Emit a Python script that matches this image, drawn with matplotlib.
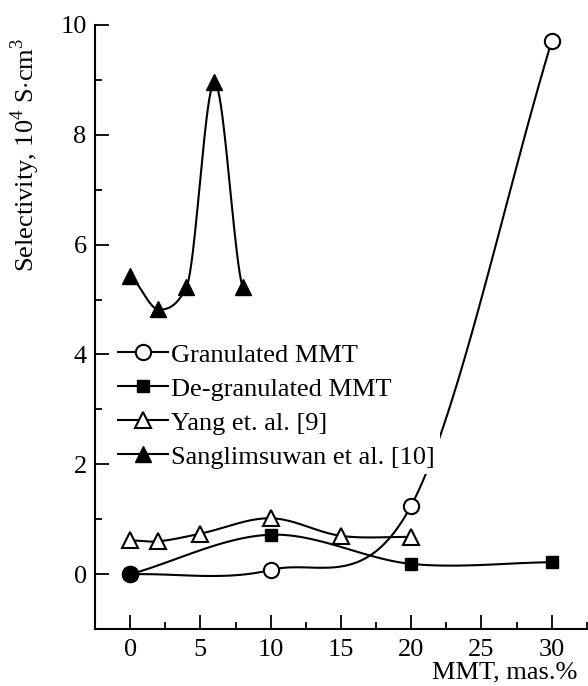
import numpy as np
import matplotlib
matplotlib.use('Agg')
import matplotlib.pyplot as plt

plt.rcParams['font.family'] = ['Liberation Serif', 'DejaVu Serif']
plt.rcParams['mathtext.fontset'] = 'custom'
plt.rcParams['mathtext.rm'] = 'Liberation Serif'

# data
gran_x = [0, 10, 20, 30]
gran_y = [0.0, 0.08, 1.25, 9.7]

degran_x = [0, 10, 20, 30]
degran_y = [0.0, 0.72, 0.19, 0.22]

yang_x = [0, 2, 5, 10, 15, 20]
yang_y = [0.62, 0.60, 0.74, 1.02, 0.70, 0.68]

sang_x = [0, 2, 4, 6, 8]
sang_y = [5.42, 4.82, 5.22, 8.95, 5.22]


def smooth(x, y, tension=1.0, n=40):
    # cardinal (Catmull-Rom like) spline through the points
    x = np.asarray(x, float)
    y = np.asarray(y, float)
    m = np.zeros_like(y)
    m[0] = (y[1] - y[0]) / (x[1] - x[0])
    m[-1] = (y[-1] - y[-2]) / (x[-1] - x[-2])
    m[1:-1] = (y[2:] - y[:-2]) / (x[2:] - x[:-2])
    m *= tension
    xs, ys = [], []
    for i in range(len(x) - 1):
        h = x[i+1] - x[i]
        t = np.linspace(0, 1, n)
        h00 = (1 + 2*t) * (1 - t)**2
        h10 = t * (1 - t)**2
        h01 = t**2 * (3 - 2*t)
        h11 = t**2 * (t - 1)
        xs.append(x[i] + t*h)
        ys.append(h00*y[i] + h10*h*m[i] + h01*y[i+1] + h11*h*m[i+1])
    return np.concatenate(xs), np.concatenate(ys)


fs = 19
fig = plt.figure(figsize=(5.88, 6.86), dpi=100)
ax = fig.add_axes([0.1616, 0.0827, 0.8364, 0.8813])

lw = 1.5
sx, sy = smooth(gran_x, gran_y)
ax.plot(sx, sy, 'k-', lw=lw, zorder=2)
sx, sy = smooth(degran_x, degran_y)
ax.plot(sx, sy, 'k-', lw=lw, zorder=2)
sx, sy = smooth(yang_x, yang_y)
ax.plot(sx, sy, 'k-', lw=lw, zorder=2)
sx, sy = smooth(sang_x, sang_y, tension=0.5)
ax.plot(sx, sy, 'k-', lw=lw, zorder=6)

ax.plot(gran_x, gran_y, 'o', ms=11, mfc='white', mec='k', mew=1.5, zorder=3)
ax.plot(degran_x, degran_y, 's', ms=8, mfc='k', mec='k', zorder=3)
ax.plot(gran_x[:1], gran_y[:1], 'o', ms=11, mfc='k', mec='k', mew=1.5, zorder=4)
ax.plot(yang_x, yang_y, '^', ms=12, mfc='white', mec='k', mew=1.5, zorder=3)
ax.plot(sang_x, sang_y, '^', ms=12, mfc='k', mec='k', zorder=6)

# legend handles
h1, = ax.plot([], [], 'k-', lw=lw, marker='o', ms=11, mfc='white', mew=1.5)
h2, = ax.plot([], [], 'k-', lw=lw, marker='s', ms=8, mfc='k')
h3, = ax.plot([], [], 'k-', lw=lw, marker='^', ms=12, mfc='white', mew=1.5)
h4, = ax.plot([], [], 'k-', lw=lw, marker='^', ms=12, mfc='k')
leg = ax.legend([h1, h2, h3, h4],
                ['Granulated MMT', 'De-granulated MMT', 'Yang et. al. [9]',
                 'Sanglimsuwan et al. [10]'],
                loc='upper left', bbox_to_anchor=(0.0365, 0.482), fontsize=fs,
                frameon=True, framealpha=1, edgecolor='none', facecolor='white',
                handlelength=1.9, handletextpad=0.1, labelspacing=0.4,
                borderpad=0.2, borderaxespad=0, numpoints=1)
leg.set_zorder(5)

ax.set_xlim(-2.5, 32.5)
ax.set_ylim(-1, 10)
ax.set_xticks([0, 5, 10, 15, 20, 25, 30])
ax.set_xticks([2.5, 7.5, 12.5, 17.5, 22.5, 27.5, 32.5], minor=True)
ax.set_yticks([0, 2, 4, 6, 8, 10])
ax.set_yticks([1, 3, 5, 7, 9], minor=True)

ax.spines['top'].set_visible(False)
ax.spines['right'].set_visible(False)
ax.spines['left'].set_linewidth(1.5)
ax.spines['bottom'].set_linewidth(1.5)
ax.tick_params(which='major', direction='in', length=10, width=1.3, labelsize=fs)
ax.tick_params(which='minor', direction='in', length=5, width=1.3)
ax.tick_params(axis='y', pad=6)
ax.tick_params(axis='x', pad=7)

fig.text(25/588, 1 - 155/686, r'Selectivity, 10$^4$ S$\cdot$cm$^3$', rotation=90,
         ha='center', va='center', fontsize=fs)
fig.text(577/588, 1 - 672/686, 'MMT, mas.%', ha='right', va='center', fontsize=fs)

fig.savefig('out.png', dpi=100)
